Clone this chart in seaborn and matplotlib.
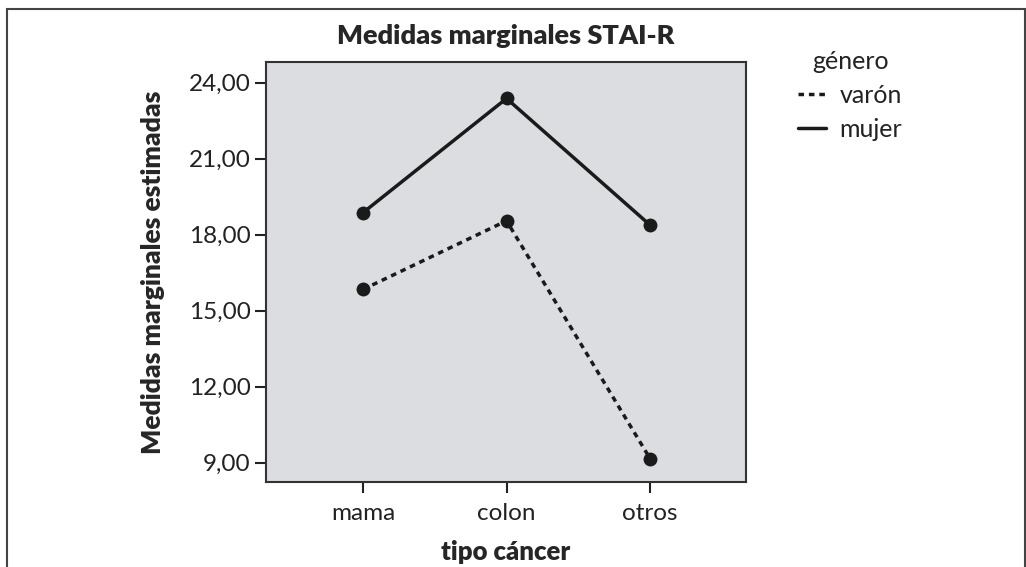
import pandas as pd
import matplotlib.pyplot as plt
import seaborn as sns
from matplotlib.patches import Rectangle

# data
tipos = ['mama', 'colon', 'otros']
varon = [15.84, 18.55, 9.16]
mujer = [18.87, 23.38, 18.38]
y_ticks = [9, 12, 15, 18, 21, 24]

df = pd.DataFrame({
    'tipo cáncer': tipos * 2,
    'valor': varon + mujer,
    'género': ['varón'] * 3 + ['mujer'] * 3,
})

sns.set_style('white')
plt.rcParams['font.family'] = ['Lato', 'DejaVu Sans']

fig = plt.figure(figsize=(10.26, 5.67), dpi=100)
ax = fig.add_axes([0.2593, 0.1504, 0.4678, 0.7403])
ax.set_facecolor('#dcdde0')

sns.lineplot(data=df, x='tipo cáncer', y='valor', hue='género', style='género',
             palette={'varón': '#1a1a1a', 'mujer': '#1a1a1a'},
             dashes={'varón': (1.6, 1.4), 'mujer': ''},
             markers={'varón': 'o', 'mujer': 'o'},
             markersize=10, linewidth=2.5, markeredgewidth=0, ax=ax, legend=True)

ax.set_xlim(-0.675, 2.668)
ax.set_ylim(8.25, 24.82)
ax.set_yticks(y_ticks)
ax.set_yticklabels([f'{v:.2f}'.replace('.', ',') for v in y_ticks])
ax.tick_params(axis='both', direction='out', length=8, width=1.5, color='#222222',
               labelsize=17.5, labelcolor='#222222', left=True, bottom=True, pad=3)
ax.tick_params(axis='x', pad=7)
for s in ax.spines.values():
    s.set_color('#333333')
    s.set_linewidth(1.5)

ax.set_title('Medidas marginales STAI-R', fontsize=19.5, fontweight='heavy', pad=13)
ax.set_xlabel('tipo cáncer', fontsize=18.5, fontweight='heavy', labelpad=12)
ax.set_ylabel('Medidas marginales estimadas', fontsize=19, fontweight='heavy', labelpad=17)

handles, labels = ax.get_legend_handles_labels()
ax.legend_.remove()
for h in handles:
    h.set_marker('')
leg = fig.legend(handles, labels, title='género', loc='upper left',
                 bbox_to_anchor=(0.756, 0.952), frameon=False, fontsize=18,
                 title_fontsize=18, handlelength=1.1, handletextpad=0.55,
                 labelspacing=0.45)
for t in leg.get_texts():
    t.set_color('#222222')
leg.get_title().set_color('#222222')

# outer frame (bottom edge cut off in the original)
fig.patches.append(Rectangle((7 / 1026, -0.1), (1025 - 7) / 1026, 1.1 - 9 / 567,
                             transform=fig.transFigure, fill=False,
                             edgecolor='#444444', linewidth=1.5))

fig.savefig('out.png', dpi=100)
